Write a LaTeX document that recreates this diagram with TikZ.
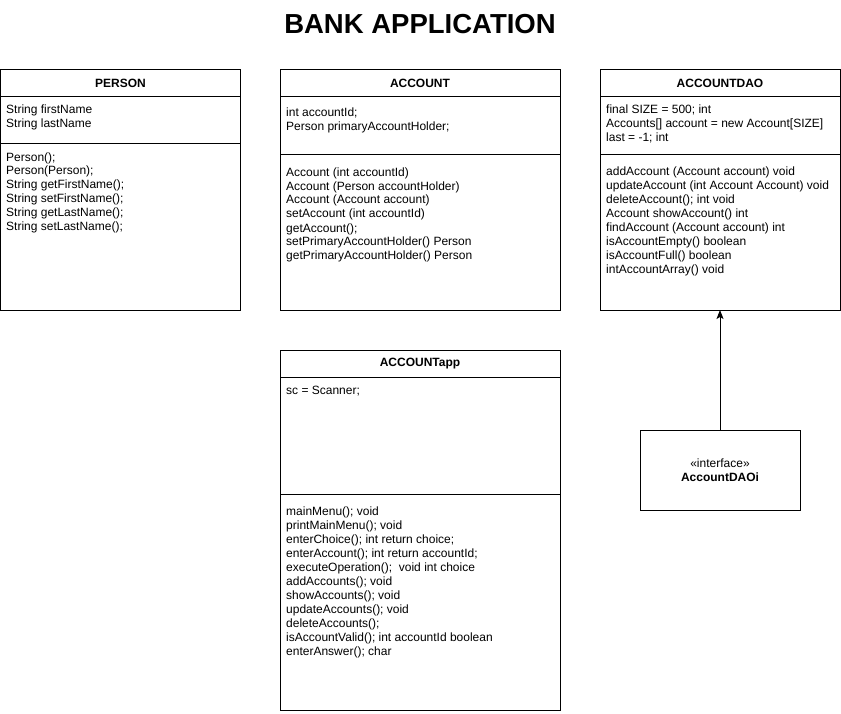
\documentclass[tikz,border=0pt]{standalone}
\usepackage{fontspec}
\setmainfont{Liberation Sans}
\usetikzlibrary{arrows.meta}

\tikzset{
  classpart/.style={draw, line width=1pt, anchor=north west, inner sep=0pt, outer sep=0pt},
  classhead/.style={classpart, font=\fontsize{12}{14}\selectfont\bfseries, minimum height=27pt},
  members/.style={anchor=base west, align=left, inner sep=0pt}
}

\begin{document}
\begin{tikzpicture}[x=1pt,y=-1pt,font=\fontsize{12}{14}\selectfont]
\useasboundingbox (0,0) rectangle (841,714);

\node[font=\fontsize{27.5}{30}\selectfont\bfseries] (title) at (420,24) {BANK APPLICATION};

\node[classhead, minimum width=240pt] (person) at (0.5,70) {PERSON};
\node[classpart, minimum width=240pt, minimum height=47pt] (person-a) at (person.south west) {};
\node[classpart, minimum width=240pt, minimum height=166pt] (person-m) at (person-a.south west) {};
\node[members] (person-at) at (6,128) {String firstName\\String lastName};
\node[members] (person-mt) at (6,231) {Person();\\Person(Person);\\String getFirstName();\\String setFirstName();\\String getLastName();\\String setLastName();};

\node[classhead, minimum width=280pt] (account) at (280,70) {ACCOUNT};
\node[classpart, minimum width=280pt, minimum height=58pt] (account-a) at (account.south west) {};
\node[classpart, minimum width=280pt, minimum height=155pt] (account-m) at (account-a.south west) {};
\node[members] (account-at) at (286,131) {int accountId;\\Person primaryAccountHolder;};
\node[members] (account-mt) at (286,260) {Account (int accountId)\\Account (Person accountHolder)\\Account (Account account)\\setAccount (int accountId)\\getAccount();\\setPrimaryAccountHolder() Person\\getPrimaryAccountHolder() Person};

\node[classhead, minimum width=240pt] (dao) at (600,70) {ACCOUNTDAO};
\node[classpart, minimum width=240pt, minimum height=58pt] (dao-a) at (dao.south west) {};
\node[classpart, minimum width=240pt, minimum height=155pt] (dao-m) at (dao-a.south west) {};
\node[members] (dao-at) at (606,142) {final SIZE = 500; int\\Accounts[] account = new Account[SIZE]\\last = -1; int};
\node[members] (dao-mt) at (606,273) {addAccount (Account account) void\\updateAccount (int Account Account) void\\deleteAccount(); int void\\Account showAccount() int\\findAccount (Account account) int\\isAccountEmpty() boolean\\isAccountFull() boolean\\intAccountArray() void};

\node[classhead, minimum width=280pt] (app) at (280,350) {ACCOUNTapp};
\node[classpart, minimum width=280pt, minimum height=117pt] (app-a) at (app.south west) {};
\node[classpart, minimum width=280pt, minimum height=216pt] (app-m) at (app-a.south west) {};
\node[members] (app-at) at (286,394) {sc = Scanner;};
\node[members] (app-mt) at (286,655) {mainMenu(); void\\printMainMenu(); void\\enterChoice(); int return choice;\\enterAccount(); int return accountId;\\executeOperation();~ void int choice\\addAccounts(); void\\showAccounts(); void\\updateAccounts(); void\\deleteAccounts();\\isAccountValid(); int accountId boolean\\enterAnswer(); char};

\node[draw, line width=1pt, minimum width=160pt, minimum height=80pt, align=center] (daoi) at (720,470) {«interface»\\\textbf{AccountDAOi}};

\draw[line width=1pt, -{Stealth[length=9pt, width=7pt, inset=2pt]}] (daoi) -- (dao-m);
\end{tikzpicture}
\end{document}
